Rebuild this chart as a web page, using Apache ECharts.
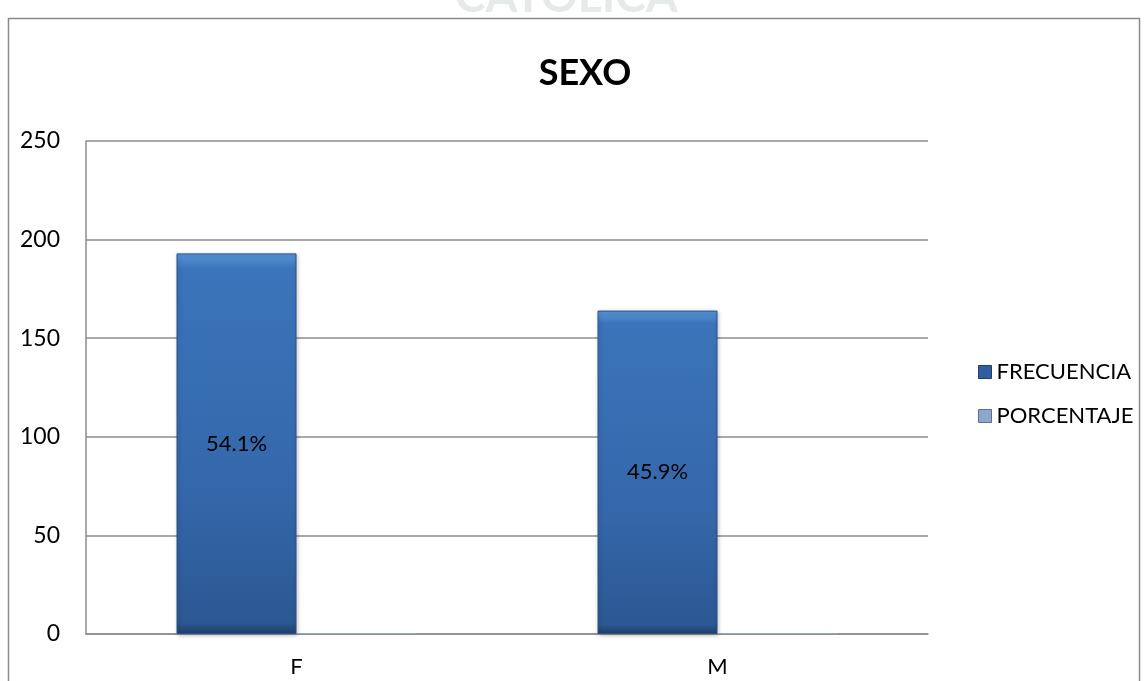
<!DOCTYPE html>
<html><head><meta charset="utf-8">
<script src="https://cdn.jsdelivr.net/npm/echarts@6/dist/echarts.min.js"></script>
<style>html,body{margin:0;padding:0;background:#fff}#c{width:1148px;height:681px}</style>
</head><body><div id="c"></div>
<script>
const categories = ['F', 'M'];
const frecuencia = [193, 164];
const porcentaje = [0.541, 0.459];
const pctLabels = ['54.1%', '45.9%'];
const yTicks = [0, 50, 100, 150, 200, 250];

const font = 'Lato, "Open Sans", sans-serif';
const chart = echarts.init(document.getElementById('c'));
chart.setOption({
  animation: false,
  title: {
    text: 'SEXO', left: 580, top: 50, textAlign: 'center',
    textStyle: { fontFamily: font, fontSize: 36, fontWeight: 'bold', color: '#000' }
  },
  graphic: [
    { type: 'rect', shape: { x: 8.5, y: 18.5, width: 1131, height: 700 }, style: { fill: 'none', stroke: '#8c8c8c', lineWidth: 1.5 }, z: -1 },
    { type: 'text', left: 455, top: -26, style: { text: 'CATOLICA', font: 'bold 46px ' + font, fill: '#e6eae6' }, z: -2 }
  ],
  legend: {
    orient: 'vertical', left: 973, top: 356, itemGap: 22, itemWidth: 13, itemHeight: 13,
    icon: 'rect',
    textStyle: { fontFamily: font, fontSize: 22, color: '#000', padding: [0, 0, 0, 0] },
    data: [
      { name: 'FRECUENCIA', itemStyle: { color: '#2f5f9e', borderColor: '#1f3f6e', borderWidth: 1 } },
      { name: 'PORCENTAJE', itemStyle: { color: '#8fa6cc', borderColor: '#5b6f94', borderWidth: 1 } }
    ]
  },
  grid: { left: 86, right: 220, top: 141, bottom: 47 },
  xAxis: {
    type: 'category', data: categories,
    axisLine: { lineStyle: { color: '#8c8c8c', width: 1.5 } },
    axisTick: { show: false },
    axisLabel: { fontFamily: font, fontSize: 22, color: '#000', margin: 22 }
  },
  yAxis: {
    type: 'value', min: 0, max: 250, interval: 50,
    axisLine: { show: true, lineStyle: { color: '#8c8c8c', width: 1.5 } },
    axisTick: { show: false },
    splitLine: { lineStyle: { color: '#8c8c8c', width: 1.5 } },
    axisLabel: { fontFamily: font, fontSize: 23, color: '#000', margin: 26,
      formatter: v => yTicks.includes(v) ? String(v) : '' }
  },
  series: [
    {
      name: 'FRECUENCIA', type: 'bar', data: frecuencia, barWidth: 120, barGap: '0%',
      itemStyle: {
        color: new echarts.graphic.LinearGradient(0, 0, 0, 1, [
          { offset: 0, color: '#5a96da' }, { offset: 0.04, color: '#3b74ba' },
          { offset: 0.6, color: '#3568ab' }, { offset: 0.97, color: '#2c5893' }, { offset: 1, color: '#223f6a' }
        ]),
        borderColor: '#2a5288', borderWidth: 1,
        shadowColor: 'rgba(0,0,0,0.25)', shadowBlur: 4, shadowOffsetX: 1, shadowOffsetY: 1
      },
      label: { show: true, position: 'inside', fontFamily: font, fontSize: 22, color: '#000',
        formatter: p => pctLabels[p.dataIndex] }
    },
    {
      name: 'PORCENTAJE', type: 'bar', data: porcentaje, barWidth: 120,
      itemStyle: { color: '#8fa6cc' }
    }
  ]
});
</script></body></html>
